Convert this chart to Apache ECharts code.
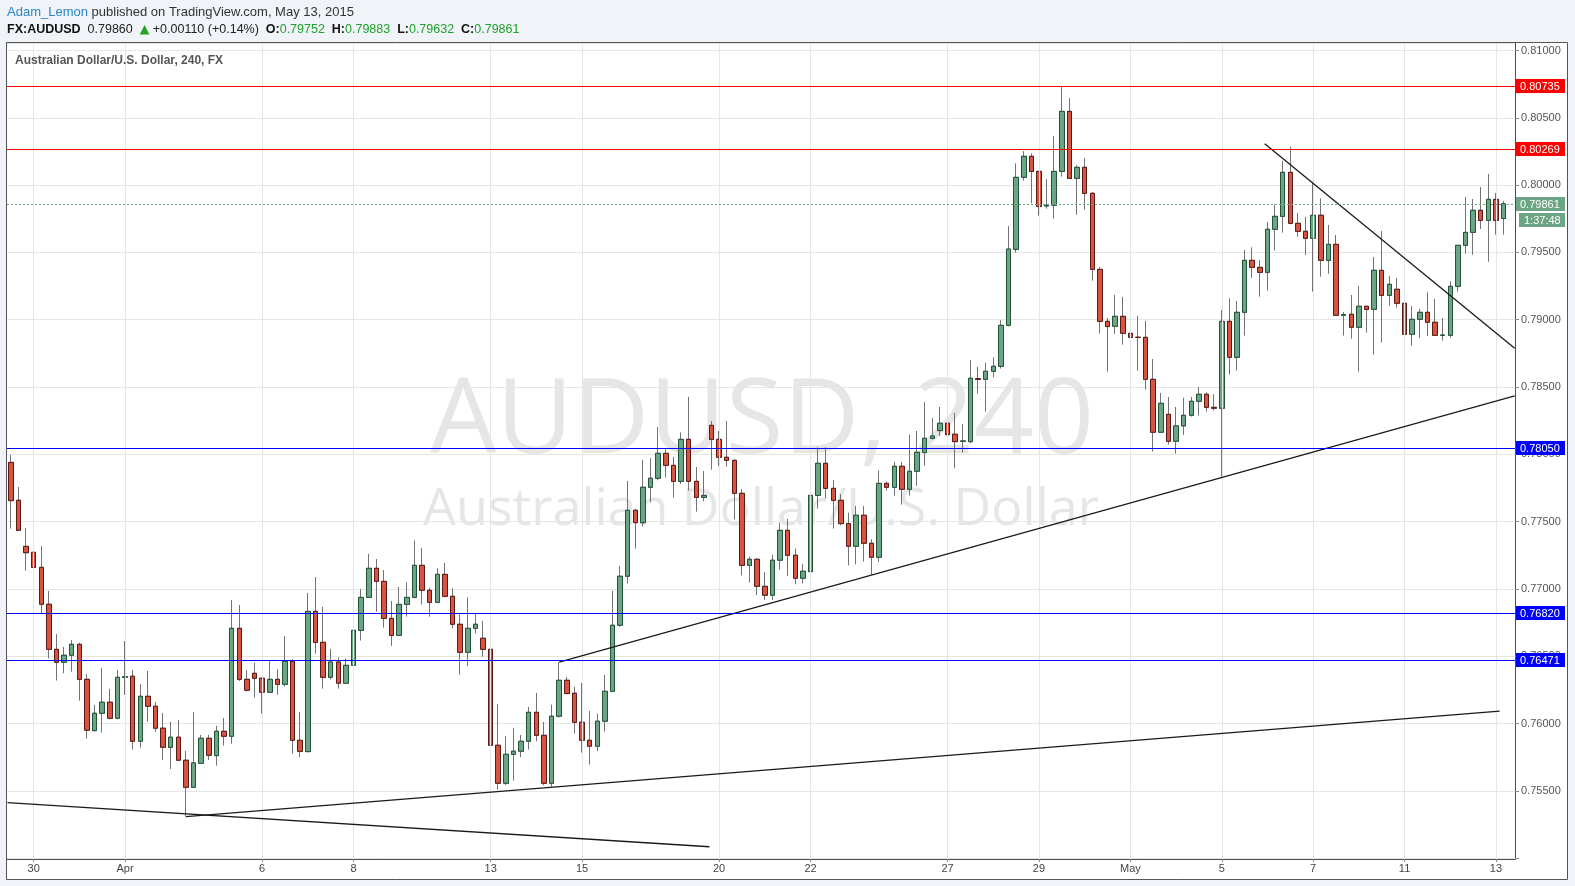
<!DOCTYPE html>
<html><head><meta charset="utf-8">
<script src="https://cdn.jsdelivr.net/npm/echarts@6/dist/echarts.min.js"></script>
<style>html,body{margin:0;padding:0;background:#f0f3f7;}#c{width:1575px;height:886px;}</style>
</head><body><div id="c"></div>
<script>
// ---- 4H candles, AUDUSD ----
const open = [
0.77940,0.77658,0.77316,0.77272,0.77160,0.76886,0.76551,0.76455,0.76507,0.76588,
0.76328,0.75947,0.76076,0.76158,0.76039,0.76343,0.76351,0.75868,0.76202,0.76128,
0.75965,0.75823,0.75898,0.75727,0.75526,0.75704,0.75890,0.75761,0.75942,0.75905,
0.76707,0.76328,0.76373,0.76336,0.76232,0.76328,0.76291,0.76462,0.75875,0.75791,
0.76833,0.76603,0.76343,0.76457,0.76299,0.76432,0.76692,0.76937,0.77153,0.77056,
0.76781,0.76655,0.76885,0.76937,0.77175,0.76989,0.76900,0.77108,0.76945,0.76737,
0.76529,0.76707,0.76633,0.76551,0.75838,0.75556,0.75771,0.75794,0.75868,0.76083,
0.75912,0.75556,0.76054,0.76321,0.76225,0.76009,0.75875,0.75831,0.76017,0.76239,
0.76730,0.77094,0.77584,0.77492,0.77755,0.77822,0.78007,0.77918,0.77799,0.78111,
0.77799,0.77680,0.78215,0.78111,0.77978,0.77955,0.77710,0.77175,0.77220,0.77019,
0.76953,0.77213,0.77435,0.77250,0.77079,0.77128,0.77695,0.77933,0.77747,0.77658,
0.77485,0.77317,0.77547,0.77339,0.77235,0.77784,0.77755,0.77911,0.77740,0.77874,
0.78013,0.78119,0.78176,0.78231,0.78149,0.78097,0.78094,0.78562,0.78557,0.78617,
0.78654,0.78958,0.79523,0.80058,0.80214,0.80102,0.79845,0.79850,0.80102,0.80548,
0.80050,0.80132,0.79939,0.79374,0.78988,0.78951,0.79025,0.78899,0.78869,0.78869,
0.78557,0.78164,0.78297,0.78097,0.78211,0.78290,0.78394,0.78446,0.78349,0.78342,
0.78988,0.78721,0.79055,0.79441,0.79389,0.79352,0.79672,0.79768,0.80095,0.79716,
0.79657,0.79605,0.79776,0.79441,0.79560,0.79033,0.79040,0.78944,0.79100,0.79077,
0.79367,0.79181,0.79226,0.79122,0.78892,0.79003,0.79055,0.78981,0.78884,0.78884,
0.79248,0.79553,0.79649,0.79813,0.79738,0.79894,0.79752
];
const high = [
0.77995,0.77757,0.77453,0.77378,0.77319,0.76985,0.76665,0.76569,0.76621,0.76601,
0.76368,0.76138,0.76413,0.76257,0.76398,0.76613,0.76398,0.76294,0.76390,0.76160,
0.76078,0.76012,0.76026,0.75796,0.76086,0.75915,0.75915,0.75982,0.76041,0.76918,
0.76880,0.76398,0.76450,0.76343,0.76464,0.76405,0.76650,0.76479,0.76086,0.76970,
0.77088,0.76866,0.76554,0.76492,0.76484,0.76739,0.76999,0.77260,0.77222,0.77140,
0.76910,0.77014,0.77049,0.77360,0.77304,0.77009,0.77153,0.77193,0.77004,0.76811,
0.76937,0.76821,0.76762,0.76663,0.76145,0.75907,0.75967,0.75915,0.76123,0.76227,
0.76011,0.76140,0.76455,0.76346,0.76272,0.76301,0.76093,0.76074,0.76361,0.76985,
0.77170,0.77802,0.77596,0.77958,0.77973,0.78203,0.78037,0.77980,0.78163,0.78427,
0.77906,0.77876,0.78247,0.78173,0.78247,0.77963,0.77742,0.77240,0.77227,0.77126,
0.77255,0.77492,0.77520,0.77299,0.77185,0.77720,0.78052,0.78052,0.77809,0.77705,
0.77567,0.77616,0.77616,0.77369,0.77879,0.77797,0.77945,0.77943,0.78144,0.78173,
0.78389,0.78270,0.78352,0.78337,0.78307,0.78226,0.78701,0.78649,0.78679,0.78721,
0.78996,0.79696,0.80162,0.80253,0.80236,0.80107,0.80045,0.80365,0.80736,0.80647,
0.80149,0.80201,0.79949,0.79392,0.79013,0.79184,0.79169,0.78976,0.79028,0.78991,
0.78708,0.78456,0.78426,0.78352,0.78421,0.78426,0.78500,0.78461,0.78446,0.79072,
0.79159,0.79139,0.79518,0.79538,0.79444,0.79726,0.79855,0.80179,0.80286,0.79793,
0.79763,0.80023,0.79902,0.79704,0.79629,0.79058,0.79184,0.79251,0.79102,0.79466,
0.79659,0.79325,0.79310,0.79122,0.79102,0.79080,0.79204,0.79154,0.79013,0.79285,
0.79553,0.79912,0.79897,0.79986,0.80083,0.79941,0.79883
];
const low = [
0.77448,0.77433,0.77136,0.77098,0.76814,0.76484,0.76319,0.76373,0.76385,0.76170,
0.75888,0.75940,0.75932,0.76031,0.76031,0.76212,0.75806,0.75821,0.76014,0.75937,
0.75729,0.75662,0.75724,0.75308,0.75526,0.75704,0.75729,0.75687,0.75836,0.75850,
0.76316,0.76237,0.76192,0.76073,0.76232,0.76214,0.76274,0.75776,0.75749,0.75784,
0.76519,0.76259,0.76328,0.76259,0.76299,0.76360,0.76616,0.76937,0.76830,0.76712,
0.76576,0.76655,0.76794,0.76930,0.76885,0.76794,0.76893,0.76937,0.76707,0.76363,
0.76425,0.76670,0.76497,0.75794,0.75511,0.75543,0.75576,0.75749,0.75806,0.75868,
0.75541,0.75531,0.76044,0.76222,0.75927,0.75784,0.75695,0.75794,0.75940,0.76239,
0.76717,0.77039,0.77299,0.77463,0.77643,0.77807,0.77827,0.77678,0.77779,0.77730,
0.77574,0.77651,0.77886,0.77911,0.77908,0.77517,0.77101,0.77047,0.76953,0.76918,
0.76918,0.77143,0.77096,0.77034,0.77042,0.77091,0.77596,0.77673,0.77448,0.77472,
0.77175,0.77183,0.77203,0.77106,0.77200,0.77730,0.77693,0.77626,0.77693,0.77765,
0.77916,0.78109,0.78136,0.78077,0.77896,0.78013,0.78082,0.78451,0.78317,0.78572,
0.78637,0.78949,0.79498,0.80033,0.79865,0.79773,0.79825,0.79751,0.80063,0.80050,
0.79780,0.79818,0.79290,0.78897,0.78614,0.78894,0.78815,0.78718,0.78622,0.78481,
0.78020,0.78164,0.78072,0.78005,0.78144,0.78280,0.78287,0.78317,0.78325,0.77834,
0.78592,0.78622,0.78882,0.79310,0.79171,0.79216,0.79513,0.79647,0.79709,0.79617,
0.79481,0.79209,0.79320,0.79342,0.79033,0.78882,0.78859,0.78614,0.78904,0.78741,
0.78830,0.79105,0.79090,0.78748,0.78807,0.78864,0.78879,0.78884,0.78845,0.78867,
0.79209,0.79491,0.79483,0.79674,0.79431,0.79632,0.79632
];
const close = [
0.77656,0.77435,0.77269,0.77160,0.76886,0.76551,0.76455,0.76507,0.76588,0.76328,
0.75950,0.76076,0.76158,0.76039,0.76343,0.76348,0.75868,0.76202,0.76128,0.75965,
0.75823,0.75898,0.75727,0.75526,0.75707,0.75890,0.75764,0.75942,0.75905,0.76707,
0.76328,0.76247,0.76336,0.76232,0.76328,0.76291,0.76462,0.75875,0.75793,0.76833,
0.76603,0.76343,0.76457,0.76299,0.76432,0.76692,0.76937,0.77153,0.77056,0.76781,
0.76655,0.76885,0.76937,0.77175,0.76989,0.76900,0.77108,0.76945,0.76737,0.76529,
0.76707,0.76737,0.76551,0.75838,0.75556,0.75771,0.75794,0.75868,0.76083,0.75912,
0.75556,0.76054,0.76321,0.76222,0.76009,0.75875,0.75831,0.76017,0.76239,0.76730,
0.77094,0.77584,0.77492,0.77755,0.77822,0.78007,0.77918,0.77799,0.78111,0.77799,
0.77680,0.77695,0.78111,0.77978,0.77955,0.77710,0.77175,0.77220,0.77019,0.76953,
0.77213,0.77435,0.77250,0.77079,0.77131,0.77695,0.77933,0.77747,0.77658,0.77485,
0.77317,0.77547,0.77339,0.77235,0.77784,0.77755,0.77911,0.77740,0.77874,0.78015,
0.78119,0.78136,0.78231,0.78146,0.78094,0.78099,0.78565,0.78557,0.78617,0.78654,
0.78958,0.79525,0.80058,0.80214,0.80102,0.79842,0.79850,0.80102,0.80548,0.80050,
0.80132,0.79939,0.79374,0.78988,0.78949,0.79025,0.78899,0.78869,0.78869,0.78557,
0.78164,0.78379,0.78097,0.78211,0.78290,0.78394,0.78446,0.78349,0.78342,0.78988,
0.78721,0.79055,0.79441,0.79389,0.79352,0.79672,0.79768,0.80095,0.79716,0.79657,
0.79605,0.79776,0.79441,0.79560,0.79033,0.79038,0.78944,0.79100,0.79077,0.79367,
0.79181,0.79263,0.79122,0.78892,0.79003,0.79055,0.78981,0.78884,0.78886,0.79248,
0.79553,0.79649,0.79813,0.79738,0.79894,0.79738,0.79861
];

// trading sessions: [day, number of 4H bars]
const days = [
 ['Mar 27',2],['Mar 29',1],['Mar 30',6],['Mar 31',6],['Apr 1',6],['Apr 2',6],['Apr 3',5],['Apr 5',1],
 ['Apr 6',6],['Apr 7',6],['Apr 8',6],['Apr 9',6],['Apr 10',5],['Apr 12',1],
 ['Apr 13',6],['Apr 14',6],['Apr 15',6],['Apr 16',6],['Apr 17',5],['Apr 19',1],
 ['Apr 20',6],['Apr 21',6],['Apr 22',6],['Apr 23',6],['Apr 24',5],['Apr 26',1],
 ['Apr 27',6],['Apr 28',6],['Apr 29',6],['Apr 30',6],['May 1',5],['May 3',1],
 ['May 4',6],['May 5',6],['May 6',6],['May 7',6],['May 8',5],['May 10',1],
 ['May 11',6],['May 12',6],['May 13',2]
];
const tickDays  = ['Mar 30','Apr 1','Apr 6','Apr 8','Apr 13','Apr 15','Apr 20','Apr 22','Apr 27','Apr 29','May 1','May 5','May 7','May 11','May 13'];
const tickTexts = ['30','Apr','6','8','13','15','20','22','27','29','May','5','7','11','13'];

const redLevels  = [0.80735, 0.80269];
const blueLevels = [0.78050, 0.76820, 0.76471];
const lastPrice = 0.79861;
const countdown = '1:37:48';

// drawn trend lines: [barIndex, price] end points
const trendLines = [
  [[-0.43, 0.75412], [91.73, 0.75084]],
  [[23, 0.75308], [195.48, 0.76091]],
  [[72, 0.76455], [197.46, 0.78435]],
  [[164.64, 0.80308], [197.46, 0.78788]]
];

const yMin = 0.74993, yMax = 0.81056;

const headerAuthor = 'Adam_Lemon';
const headerRest = ' published on TradingView.com, May 13, 2015';
const quoteLine = {sym:'FX:AUDUSD', last:'0.79860', chg:'+0.00110 (+0.14%)', o:'0.79752', h:'0.79883', l:'0.79632', c:'0.79861'};
const chartTitle = 'Australian Dollar/U.S. Dollar, 240, FX';
const wmBig = 'AUDUSD, 240';
const wmSmall = 'Australian Dollar/U.S. Dollar';

// ---- build ----
const FONT = '"Liberation Sans", Arial, sans-serif';
const categories = [];
const tickText = {};
days.forEach(([d, n]) => {
  for (let k = 0; k < n; k++) {
    if (k === 0) { const t = tickDays.indexOf(d); if (t >= 0) tickText[categories.length] = tickTexts[t]; }
    categories.push(d + ' #' + (k + 1));
  }
});
categories.push(' '); // empty right margin slot
const isTick = (i) => tickText[i] !== undefined;
const xLo = -0.5, xHi = categories.length - 0.5;

const ohlc = open.map((o, i) => [o, close[i], low[i], high[i]]);
const bodies = open.map((o, i) => [o, close[i], Math.min(o, close[i]), Math.max(o, close[i])]);

// horizontal level: line across the plot + value box on the price axis
function levelSeries(values, col, dashed, extraText) {
  return {type:'custom', xAxisIndex:1, yAxisIndex:0, silent:true, clip:false, z:8,
    data: values.map(v => [xHi, v]),
    encode:{x:0, y:1},
    renderItem:(params, api) => {
      const v = api.value(1);
      const a = api.coord([xLo, v]);
      const b = api.coord([xHi, v]);
      const y = Math.round(a[1]) + 0.5;
      const kids = [
        {type:'line', shape:{x1:a[0], y1:y, x2:b[0], y2:y},
         style:{stroke:col, lineWidth:1, lineDash: dashed ? [2,2] : null}},
        {type:'rect', shape:{x:b[0] + 1, y:y - 7.5, width:49, height:14}, style:{fill:col}},
        {type:'text', x:b[0] + 5, y:y, style:{text:v.toFixed(5), fill:'#fff', font:'11px "Liberation Sans"',
          verticalAlign:'middle', textVerticalAlign:'middle', align:'left', textAlign:'left'}}
      ];
      if (extraText) {
        kids.push({type:'rect', shape:{x:b[0] + 4, y:y + 8.5, width:46, height:14}, style:{fill:col}});
        kids.push({type:'text', x:b[0] + 9, y:y + 16, style:{text:extraText, fill:'#fff', font:'11px "Liberation Sans"',
          verticalAlign:'middle', textVerticalAlign:'middle', align:'left', textAlign:'left'}});
      }
      return {type:'group', children:kids};
    }};
}

const series = [
  {type:'line', xAxisIndex:1, yAxisIndex:0, data:[], silent:true, z:1, color:'#e6e6e6',
   markLine:{silent:true, symbol:['none','none'], animation:false, precision:3, label:{show:false},
     lineStyle:{color:'#e6e6e6', width:1, type:'solid'},
     data:Object.keys(tickText).map(i => ({xAxis:+i}))}},
  {type:'candlestick', xAxisIndex:0, yAxisIndex:0, data:ohlc, barWidth:5, z:3, silent:true,
   itemStyle:{color:'#6ba583', color0:'#d75442', borderColor:'#737375', borderColor0:'#737375', borderColorDoji:'#737375', borderWidth:1}},
  {type:'candlestick', xAxisIndex:0, yAxisIndex:0, data:bodies, barWidth:5, z:4, silent:true,
   itemStyle:{color:'#6ba583', color0:'#d75442', borderColor:'#225437', borderColor0:'#5b1a13', borderColorDoji:'#5b1a13', borderWidth:1}},
  ...trendLines.map(seg => ({type:'line', xAxisIndex:1, yAxisIndex:0, data:seg, showSymbol:false, symbol:'none', silent:true, z:5,
    color:'#1a1a1a', lineStyle:{color:'#1a1a1a', width:1.3}})),
  levelSeries(redLevels, '#ff0000', false, null),
  levelSeries(blueLevels, '#0000ff', false, null),
  levelSeries([lastPrice], '#6ba583', true, countdown)
];

const yLabel = (v) => {
  if (v < 0.7525) return '';
  if (Math.abs(v * 200 - Math.round(v * 200)) > 1e-6) return '';
  return v.toFixed(5);
};

const option = {
  animation:false,
  backgroundColor:'#f0f3f7',
  textStyle:{fontFamily:FONT},
  grid:{left:7, right:60, top:43, bottom:27, containLabel:false, outerBoundsMode:'none'},
  xAxis:[
    {type:'category', data:categories, boundaryGap:true,
     axisLine:{show:true, onZero:false, lineStyle:{color:'#4d4d4d', width:1}},
     axisTick:{show:true, alignWithLabel:true, interval:isTick, length:3, lineStyle:{color:'#888'}},
     axisLabel:{show:true, interval:isTick, formatter:(v, i) => tickText[i] || '', color:'#444', fontSize:11, margin:4},
     splitLine:{show:false}},
    {type:'value', min:xLo, max:xHi, show:false, axisLine:{show:false, onZero:false}, axisTick:{show:false}, axisLabel:{show:false}, splitLine:{show:false}}
  ],
  yAxis:[{type:'value', position:'right', min:yMin, max:yMax, splitNumber:12, scale:true,
    axisLine:{show:true, onZero:false, lineStyle:{color:'#4d4d4d', width:1}},
    axisTick:{show:true, inside:false, length:4, lineStyle:{color:'#888'}},
    axisLabel:{color:'#555', fontSize:11, margin:6, showMinLabel:false, showMaxLabel:false, formatter:yLabel},
    splitLine:{show:true, lineStyle:{color:'#e6e6e6', width:1}}}],
  series:series,
  graphic:[
    {type:'rect', z:-10, silent:true, shape:{x:6.5, y:42.5, width:1561, height:837}, style:{fill:'#ffffff'}},
    {type:'text', z:-5, silent:true, x:762, y:423, style:{text:wmBig, font:'105px "Open Sans"', fill:'#e6e6e6', textAlign:'center', textVerticalAlign:'middle'}},
    {type:'text', z:-5, silent:true, x:761, y:510, style:{text:wmSmall, font:'52px "Open Sans"', fill:'#e6e6e6', textAlign:'center', textVerticalAlign:'middle'}},
    {type:'rect', z:100, silent:true, shape:{x:6.5, y:42.5, width:1561, height:837}, style:{fill:'none', stroke:'#555', lineWidth:1}},
    {type:'text', z:100, silent:true, x:15, y:61, style:{text:chartTitle, font:'bold 12px "Liberation Sans"', fill:'#555', textVerticalAlign:'middle'}},
    {type:'text', z:100, silent:true, x:7, y:12, style:{
      text:'{u|' + headerAuthor + '}' + headerRest,
      font:'13px "Liberation Sans"', fill:'#333', textVerticalAlign:'middle',
      rich:{u:{fill:'#2a86c8', font:'13px "Liberation Sans"'}}}},
    {type:'text', z:100, silent:true, x:7, y:30, style:{
      text:'{b|' + quoteLine.sym + '}  ' + quoteLine.last + '  {g|▲} ' + quoteLine.chg + '  {b|O:}{v|' + quoteLine.o + '}  {b|H:}{v|' + quoteLine.h + '}  {b|L:}{v|' + quoteLine.l + '}  {b|C:}{v|' + quoteLine.c + '}',
      font:'12.5px "Liberation Sans"', fill:'#222', textVerticalAlign:'middle',
      rich:{b:{font:'bold 12.5px "Liberation Sans"', fill:'#111'}, g:{font:'12.5px "DejaVu Sans"', fill:'#22a32a'}, v:{font:'12.5px "Liberation Sans"', fill:'#1fa12b'}}}}
  ]
};
const chart = echarts.init(document.getElementById('c'));
chart.setOption(option);
</script>
</body></html>
